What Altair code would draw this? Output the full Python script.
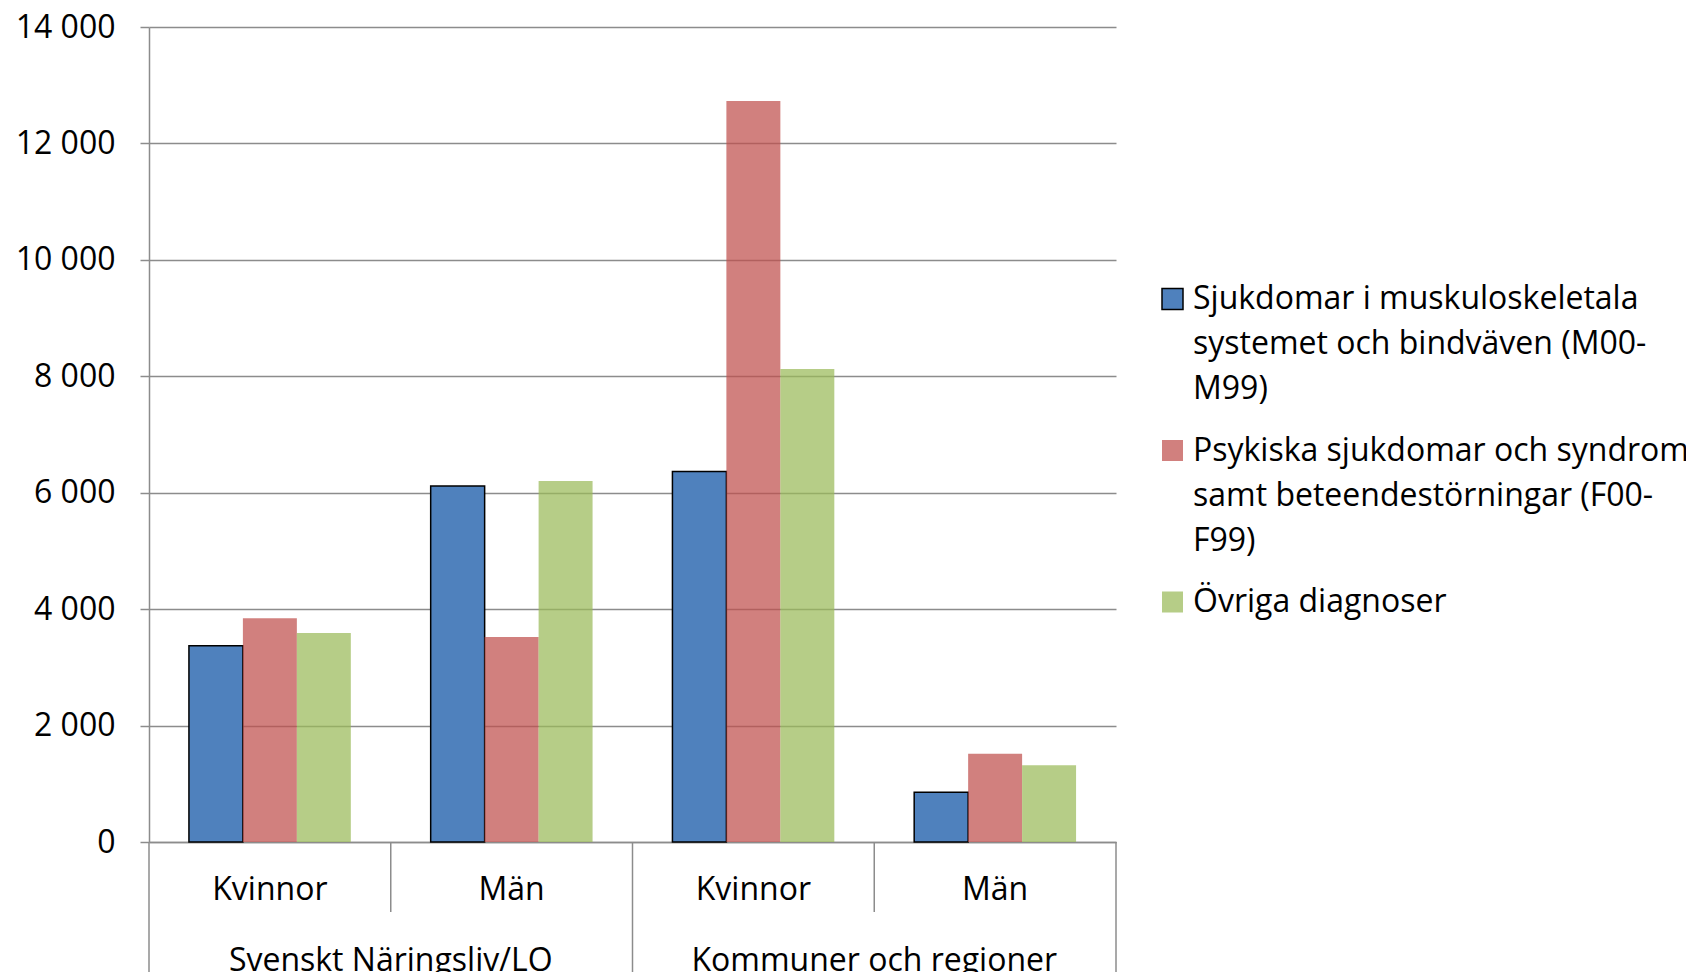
import altair as alt
import pandas as pd

groups = ["Svenskt Näringsliv/LO", "Kommuner och regioner"]
sexes = ["Kvinnor", "Män"]
series = [
    "Sjukdomar i muskuloskeletala systemet och bindväven (M00-M99)",
    "Psykiska sjukdomar och syndrom samt beteendestörningar (F00-F99)",
    "Övriga diagnoser",
]
legend_lines = [
    "Sjukdomar i muskuloskeletala|systemet och bindväven (M00-|M99)",
    "Psykiska sjukdomar och syndrom|samt beteendestörningar (F00-|F99)",
    "Övriga diagnoser",
]
# order: SN Kvinnor, SN Män, KR Kvinnor, KR Män
muskulo = [3370, 6115, 6365, 855]
psykiska = [3845, 3520, 12730, 1515]
ovriga = [3590, 6200, 8125, 1320]
colors = ["#4F81BD", "#C0504D", "#9BBB59"]
y_ticks = [0, 2000, 4000, 6000, 8000, 10000, 12000, 14000]

FONT = "Open Sans"
FS = 32
GRID = "#8c8c8c"
W, H = 967, 815

keys = [f"{g}|{s}" for g in groups for s in sexes]
rows = []
for vals, ser in zip([muskulo, psykiska, ovriga], series):
    for k, v in zip(keys, vals):
        rows.append({"key": k, "series": ser, "value": v})
df = pd.DataFrame(rows)

color_scale = alt.Scale(domain=series, range=colors)
is_first = alt.datum.series == series[0]
opacity_enc = alt.condition(is_first, alt.value(1.0), alt.value(0.72))
stroke_enc = alt.condition(is_first, alt.value("#000000"), alt.value("transparent"))

bars = alt.Chart(df).mark_bar(strokeWidth=1.5).encode(
    x=alt.X(
        "key:N",
        sort=keys,
        scale=alt.Scale(domain=keys, paddingInner=0, paddingOuter=0),
        axis=alt.Axis(
            title=None,
            labelExpr="split(datum.label, '|')[1]",
            ticks=False,
            tickSize=0,
            labelPadding=57,
            labelBaseline="alphabetic",
            labelFontSize=FS,
            labelFont=FONT,
            labelColor="#000000",
            labelAngle=0,
            domainColor=GRID,
            domainWidth=1.5,
            grid=False,
        ),
    ),
    xOffset=alt.XOffset(
        "series:N",
        sort=series,
        scale=alt.Scale(domain=series, paddingInner=0, paddingOuter=0.74),
    ),
    y=alt.Y(
        "value:Q",
        scale=alt.Scale(domain=[0, 14000], nice=False),
        axis=alt.Axis(
            values=y_ticks,
            title=None,
            labelExpr="replace(format(datum.value, ','), ',', ' ')",
            grid=True,
            gridColor=GRID,
            gridWidth=1.5,
            domainColor=GRID,
            domainWidth=1.5,
            tickColor=GRID,
            tickWidth=1.5,
            tickSize=9,
            labelPadding=25,
            labelFontSize=FS,
            labelFont=FONT,
            labelColor="#000000",
        ),
    ),
    color=alt.Color("series:N", scale=color_scale, legend=None),
    opacity=opacity_enc,
    stroke=stroke_enc,
)

# category dividers below the axis
n = len(keys)
div_df = pd.DataFrame({"pos": list(range(n + 1))})
div_df["long"] = div_df["pos"] % len(sexes) == 0
pos_scale = alt.Scale(domain=[0, n], nice=False, zero=False)

rule_long = alt.Chart(div_df[div_df["long"]]).mark_rule(color=GRID, strokeWidth=1.5).encode(
    x=alt.X("pos:Q", scale=pos_scale, axis=None),
    y=alt.value(H),
    y2=alt.value(H + 160),
)
rule_short = alt.Chart(div_df[~div_df["long"]]).mark_rule(color=GRID, strokeWidth=1.5).encode(
    x=alt.X("pos:Q", scale=pos_scale, axis=None),
    y=alt.value(H),
    y2=alt.value(H + 70),
)

grp_df = pd.DataFrame({"group": groups})
grp_df["pos"] = [i * len(sexes) + len(sexes) / 2 for i in range(len(groups))]
grp_text = alt.Chart(grp_df).mark_text(
    font=FONT, fontSize=FS, baseline="alphabetic", align="center", color="#000000"
).encode(
    x=alt.X("pos:Q", scale=pos_scale, axis=None),
    y=alt.value(944),
    text="group:N",
)

# legend
leg_df = pd.DataFrame({"series": series, "lines": legend_lines})
leg_base = alt.Chart(leg_df).transform_window(idx="row_number()")

leg_sym = leg_base.transform_calculate(
    ly="272 + (datum.idx - 1) * 151.5"
).mark_square(size=441, strokeWidth=1.5).encode(
    x=alt.value(1023.5),
    y=alt.Y("ly:Q", scale=None, axis=None),
    color=alt.Color("series:N", scale=color_scale, legend=None),
    opacity=opacity_enc,
    stroke=stroke_enc,
)

leg_txt = leg_base.transform_calculate(
    ln="split(datum.lines, '|')"
).transform_flatten(["ln"]).transform_window(
    li="row_number()", groupby=["series"]
).transform_calculate(
    ly="272 + (datum.idx - 1) * 151.5 + (datum.li - 1) * 45"
).mark_text(
    font=FONT, fontSize=FS, baseline="middle", align="left", color="#000000"
).encode(
    x=alt.value(1044),
    y=alt.Y("ly:Q", scale=None, axis=None),
    text="ln:N",
)

chart = alt.layer(
    bars, rule_long, rule_short, grp_text, leg_sym, leg_txt
).resolve_scale(
    x="independent", y="independent"
).properties(
    width=W,
    height=H,
    padding={"left": 141, "top": 19, "right": 570, "bottom": 130},
    autosize=alt.AutoSizeParams(type="none"),
).configure(font=FONT).configure_view(stroke=None)

chart.save("out.html", embed_options={"renderer": "svg", "actions": False})
